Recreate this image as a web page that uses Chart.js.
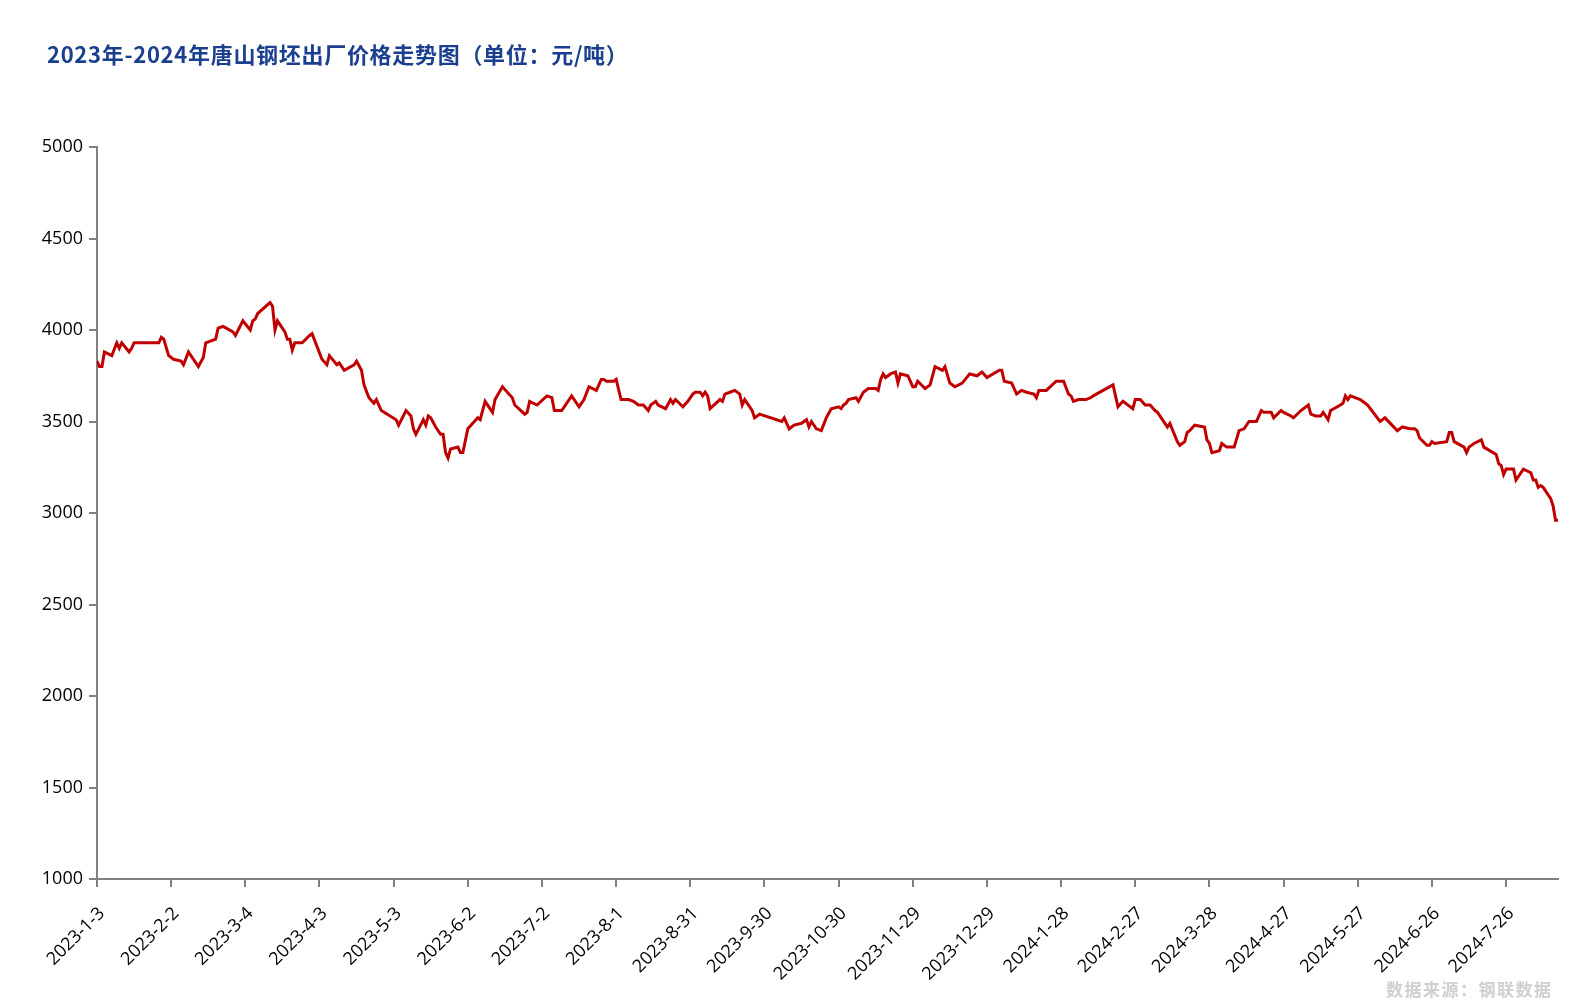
<!DOCTYPE html>
<html lang="zh-CN">
<head>
<meta charset="utf-8">
<title>2023年-2024年唐山钢坯出厂价格走势图</title>
<script src="https://cdn.jsdelivr.net/npm/chart.js@4.4.1/dist/chart.umd.min.js"></script>
<style>
    html, body { margin: 0; padding: 0; background: #fff; }
    #wrap   { position: relative; width: 1589px; height: 1002px; }
    #titulo { position: absolute; left: 47px; top: 37px; font: bold 22px "Noto Sans CJK SC", sans-serif; color: #1B3F8F; letter-spacing: 0.7px; white-space: nowrap; }
    #fonte  { position: absolute; left: 1386px; top: 976px; font: bold 17px "Noto Sans CJK SC", sans-serif; color: #cfcfcf; letter-spacing: 1.5px; white-space: nowrap; }
</style>
</head>
<body>
<div id="wrap">
    <canvas id="grafico" width="1589" height="1002"></canvas>
    <div id="titulo">2023年-2024年唐山钢坯出厂价格走势图（单位：元/吨）</div>
    <div id="fonte">数据来源：钢联数据</div>
</div>
<script>
// ===== DADOS =====
const dataInicial = '2023-01-03';

// dias desde 2023-1-3
const dias = [
    0, 1, 2, 3, 6, 8, 9, 10, 13, 14, 15, 17, 25, 26, 27, 29, 31, 34, 35, 37,
    41, 43, 44, 48, 49, 51, 55, 56, 59, 62, 63, 64, 65, 70, 71, 72, 73, 76, 77, 78,
    79, 80, 83, 86, 87, 91, 93, 94, 97, 98, 100, 104, 105, 107, 108, 110, 112, 113, 115, 121,
    122, 125, 127, 128, 129, 132, 133, 134, 135, 137, 139, 140, 141, 142, 143, 146, 147, 148, 150, 154,
    155, 157, 160, 161, 164, 168, 169, 173, 174, 175, 178, 182, 184, 185, 188, 192, 195, 197, 199, 202,
    204, 205, 206, 209, 210, 212, 215, 217, 219, 221, 223, 224, 226, 227, 230, 232, 233, 234, 237, 239,
    241, 242, 244, 245, 246, 247, 248, 252, 253, 254, 256, 258, 260, 261, 262, 265, 266, 268, 277, 278,
    280, 282, 285, 287, 288, 289, 291, 293, 295, 297, 300, 301, 302, 303, 304, 307, 308, 310, 312, 315,
    316, 317, 318, 319, 321, 323, 324, 325, 328, 330, 331, 332, 335, 337, 339, 342, 343, 345, 347, 350,
    353, 356, 358, 360, 365, 366, 367, 370, 372, 374, 376, 379, 380, 381, 384, 388, 391, 393, 394, 395,
    397, 400, 402, 403, 411, 413, 415, 419, 420, 422, 424, 426, 428, 429, 433, 434, 437, 438, 440, 441,
    442, 444, 448, 449, 450, 451, 454, 455, 457, 460, 462, 464, 466, 469, 471, 472, 475, 476, 479, 480,
    483, 484, 487, 490, 491, 493, 495, 496, 497, 498, 499, 503, 504, 505, 506, 507, 511, 513, 514, 519,
    521, 526, 528, 531, 533, 534, 535, 538, 539, 540, 541, 546, 547, 548, 549, 553, 554, 555, 557, 560,
    561, 566, 567, 568, 569, 570, 573, 574, 577, 580, 581, 582, 583, 584, 585, 588, 589, 590, 591
];

const precos = [
    3830, 3800, 3800, 3880, 3860, 3930, 3900, 3930, 3880, 3900, 3930, 3930, 3930, 3960, 3950, 3860, 3840, 3830, 3810, 3880,
    3800, 3850, 3930, 3950, 4010, 4020, 3990, 3970, 4050, 4000, 4050, 4060, 4090, 4150, 4130, 4000, 4050, 3990, 3950, 3950,
    3890, 3930, 3930, 3970, 3980, 3840, 3810, 3860, 3810, 3820, 3780, 3810, 3830, 3780, 3700, 3630, 3600, 3620, 3560, 3510,
    3480, 3560, 3530, 3460, 3430, 3510, 3480, 3530, 3520, 3470, 3430, 3430, 3330, 3300, 3350, 3360, 3330, 3330, 3460, 3520,
    3510, 3610, 3550, 3620, 3690, 3630, 3590, 3540, 3550, 3610, 3590, 3640, 3630, 3560, 3560, 3640, 3580, 3620, 3690, 3670,
    3730, 3730, 3720, 3720, 3730, 3620, 3620, 3610, 3590, 3590, 3560, 3590, 3610, 3590, 3570, 3620, 3600, 3620, 3580, 3610,
    3650, 3660, 3660, 3640, 3660, 3640, 3570, 3620, 3610, 3650, 3660, 3670, 3650, 3590, 3620, 3560, 3520, 3540, 3500, 3520,
    3460, 3480, 3490, 3510, 3470, 3500, 3460, 3450, 3520, 3570, 3580, 3570, 3590, 3600, 3620, 3630, 3610, 3660, 3680, 3680,
    3670, 3730, 3760, 3740, 3760, 3770, 3710, 3760, 3750, 3690, 3690, 3720, 3680, 3700, 3800, 3780, 3800, 3710, 3690, 3710,
    3760, 3750, 3770, 3740, 3780, 3780, 3720, 3710, 3650, 3670, 3660, 3650, 3630, 3670, 3670, 3720, 3720, 3650, 3640, 3610,
    3620, 3620, 3630, 3640, 3700, 3580, 3610, 3570, 3620, 3620, 3590, 3590, 3560, 3550, 3470, 3490, 3390, 3370, 3390, 3440,
    3450, 3480, 3470, 3400, 3380, 3330, 3340, 3380, 3360, 3360, 3450, 3460, 3500, 3500, 3560, 3550, 3550, 3520, 3560, 3550,
    3530, 3520, 3560, 3590, 3540, 3530, 3530, 3550, 3530, 3510, 3560, 3590, 3600, 3640, 3620, 3640, 3620, 3600, 3590, 3500,
    3520, 3450, 3470, 3460, 3460, 3450, 3410, 3370, 3370, 3390, 3380, 3390, 3440, 3440, 3390, 3360, 3330, 3360, 3380, 3400,
    3360, 3320, 3270, 3260, 3210, 3240, 3240, 3180, 3240, 3220, 3180, 3180, 3140, 3150, 3140, 3080, 3040, 2960, 2960
];

const rotulosX = [
    '2023-1-3', '2023-2-2', '2023-3-4', '2023-4-3', '2023-5-3', '2023-6-2', '2023-7-2',
    '2023-8-1', '2023-8-31', '2023-9-30', '2023-10-30', '2023-11-29', '2023-12-29',
    '2024-1-28', '2024-2-27', '2024-3-28', '2024-4-27', '2024-5-27', '2024-6-26', '2024-7-26'
];

// ===== HELPERS =====
function diasDesdeInicio(str) {
    const [a, m, d] = str.split('-').map(Number);
    const [a0, m0, d0] = dataInicial.split('-').map(Number);
    return Math.round((Date.UTC(a, m - 1, d) - Date.UTC(a0, m0 - 1, d0)) / 86400000);
}

const posTicksX = rotulosX.map(diasDesdeInicio);
const FONTE_EIXO = { family: "'Open Sans', sans-serif", size: 18 };
const CINZA = '#808080';

// ===== GRÁFICO =====
new Chart(document.getElementById('grafico').getContext('2d'), {
    type: 'line',
    data: {
        datasets: [{
            data:        dias.map((d, i) => ({ x: d, y: precos[i] })),
            borderColor: '#C00000',
            borderWidth: 3,
            pointRadius: 0,
            tension:     0,
            fill:        false,
        }]
    },
    options: {
        responsive: false,
        animation: false,
        layout: { padding: { top: 147, right: 31, left: 0, bottom: 0 } },
        plugins: {
            legend:  { display: false },
            tooltip: { enabled: false }
        },
        scales: {
            x: {
                type: 'linear',
                min: 0,
                max: 591,
                afterBuildTicks: s => { s.ticks = posTicksX.map(v => ({ value: v })); },
                afterFit: s => { s.height = 123; },
                ticks: {
                    autoSkip: false,
                    minRotation: 45,
                    maxRotation: 45,
                    padding: 16,
                    labelOffset: 5,
                    color: '#000',
                    font: FONTE_EIXO,
                    callback: v => rotulosX[posTicksX.indexOf(v)]
                },
                grid:   { drawOnChartArea: false, tickLength: 8, color: CINZA, lineWidth: 2 },
                border: { color: CINZA, width: 2 }
            },
            y: {
                min: 1000,
                max: 5000,
                afterFit: s => { s.width = 97; },
                ticks: { stepSize: 500, padding: 6, color: '#000', font: FONTE_EIXO, callback: v => String(v) },
                grid:   { drawOnChartArea: false, tickLength: 8, color: CINZA, lineWidth: 2 },
                border: { color: CINZA, width: 2 }
            }
        }
    }
});
</script>
</body>
</html>
